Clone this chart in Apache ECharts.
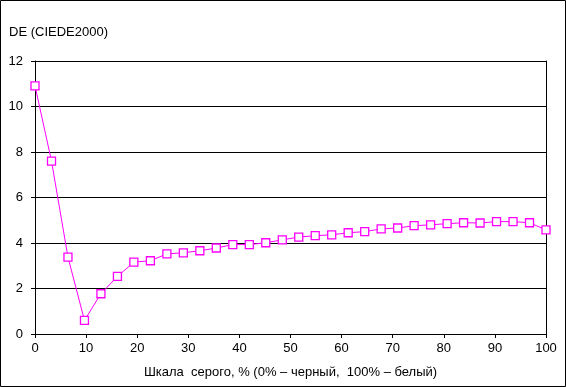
<!DOCTYPE html>
<html>
<head>
<meta charset="utf-8">
<script src="https://cdn.jsdelivr.net/npm/echarts@6/dist/echarts.min.js"></script>
<style>
html,body{margin:0;padding:0;background:#fff;}
#c{width:566px;height:387px;}
</style>
</head>
<body>
<div id="c"></div>
<script>
// Gray scale positions (%) and DE values
var grayPercent = [0,3.23,6.45,9.68,12.9,16.13,19.35,22.58,25.81,29.03,32.26,35.48,38.71,41.94,45.16,48.39,51.61,54.84,58.06,61.29,64.52,67.74,70.97,74.19,77.42,80.65,83.87,87.1,90.32,93.55,96.77,100];
var deValues = [10.91,7.60,3.38,0.60,1.77,2.53,3.16,3.22,3.52,3.57,3.66,3.78,3.93,3.93,4.01,4.14,4.26,4.32,4.36,4.45,4.50,4.62,4.66,4.76,4.80,4.85,4.89,4.88,4.94,4.94,4.89,4.58];
var yTitle = 'DE (CIEDE2000)';
var xTitle = 'Шкала  серого, % (0% – черный,  100% – белый)';

var pts = grayPercent.map(function(x,i){return [x, deValues[i]];});
var font = 'Liberation Sans, Arial, sans-serif';
var chart = echarts.init(document.getElementById('c'));
chart.setOption({
  animation:false,
  backgroundColor:'#fff',
  title:{text:yTitle,left:4,top:21,textStyle:{fontSize:13,fontWeight:'normal',color:'#000',fontFamily:font}},
  grid:{left:35,right:20,top:61,bottom:53},
  graphic:[{type:'rect',shape:{x:0.5,y:0.5,width:565,height:386},style:{fill:'none',stroke:'#000',lineWidth:1},silent:true}],
  xAxis:{type:'value',min:0,max:100,interval:10,
    name:xTitle,nameLocation:'middle',nameGap:32,
    nameTextStyle:{fontSize:13,color:'#000',fontFamily:font},
    axisLine:{show:true,onZero:false,lineStyle:{color:'#000',width:1}},
    axisTick:{show:true,length:4,lineStyle:{color:'#000'}},
    axisLabel:{fontSize:13,color:'#000',fontFamily:font,margin:8},
    splitLine:{show:false}},
  yAxis:[{type:'value',min:0,max:12,interval:2,
    axisLine:{show:true,lineStyle:{color:'#000',width:1}},
    axisTick:{show:true,length:4,lineStyle:{color:'#000'}},
    axisLabel:{fontSize:13,color:'#000',fontFamily:font,margin:12},
    splitLine:{show:true,lineStyle:{color:'#000',width:1}}},
    {type:'value',min:0,max:12,interval:2,position:'right',
    axisLine:{show:true,lineStyle:{color:'#000',width:1}},
    axisTick:{show:false},axisLabel:{show:false},splitLine:{show:false}}],
  series:[{type:'line',data:pts,symbol:'rect',symbolSize:8,
    lineStyle:{color:'#ff00ff',width:1},
    itemStyle:{color:'#ffffff',borderColor:'#ff00ff',borderWidth:1.3},
    z:5}]
});
</script>
</body>
</html>
